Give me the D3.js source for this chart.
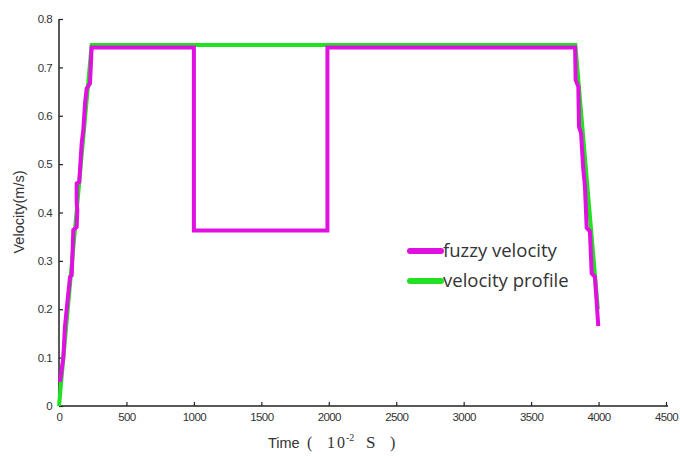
<!DOCTYPE html>
<html><head><meta charset="utf-8">
<script src="https://cdn.jsdelivr.net/npm/d3@7"></script>
<style>body{margin:0;background:#fff}svg{display:block}</style>
</head><body>
<svg id="c" width="680" height="456"></svg>
<script>
// ---- data ----
const xTicks = [0,500,1000,1500,2000,2500,3000,3500,4000,4500];
const yTicks = [0,0.1,0.2,0.3,0.4,0.5,0.6,0.7,0.8];
const yTickLabels = ["0","0.1","0.2","0.3","0.4","0.5","0.6","0.7","0.8"];
const profileT = [0, 242, 3828, 3995];
const profileV = [0, 0.746, 0.746, 0.2];
const fuzzyT = [8, 32, 44, 57, 69, 82, 94, 102, 106, 131, 136, 131, 131, 150, 168, 180, 193, 205, 230, 242,
                1000, 1000, 1990, 1990, 3826, 3830, 3850, 3855, 3870, 3887, 3899, 3912, 3936, 3949, 3973, 3998];
const fuzzyV = [0.05, 0.10, 0.164, 0.20, 0.233, 0.267, 0.27, 0.33, 0.364, 0.37, 0.405, 0.42, 0.46, 0.463, 0.543, 0.57, 0.626, 0.656, 0.667, 0.741,
                0.741, 0.363, 0.363, 0.741, 0.741, 0.674, 0.66, 0.577, 0.564, 0.488, 0.454, 0.368, 0.361, 0.274, 0.267, 0.165];
const legendLabels = ["fuzzy velocity", "velocity profile"];
const seriesColors = ["#e010e0", "#22e022"];

// ---- chart ----
const svg = d3.select("#c");
const x = d3.scaleLinear().domain([0,4500]).range([59,666]);
const y = d3.scaleLinear().domain([0,0.8]).range([406,19]);
const axisColor = "#222";

const gx = svg.append("g").attr("transform","translate(0,406)")
  .call(d3.axisBottom(x).tickValues(xTicks).tickSizeInner(-4).tickSizeOuter(0).tickPadding(7).tickFormat(d3.format("d")));
const gy = svg.append("g").attr("transform","translate(59,0)")
  .call(d3.axisLeft(y).tickValues(yTicks).tickSizeInner(-4).tickSizeOuter(0).tickPadding(7).tickFormat((d,i)=>yTickLabels[i]));
[gx,gy].forEach(g=>{
  g.select(".domain").attr("stroke",axisColor).attr("stroke-width",1.5);
  g.selectAll(".tick line").attr("stroke",axisColor).attr("stroke-width",1.2);
  g.selectAll(".tick text").attr("fill","#333").attr("font-family","Liberation Sans, Arial, sans-serif")
    .attr("font-size",11.5).attr("letter-spacing","-0.6px");
});
gx.select(".domain").attr("d","M59,0H668");
gy.select(".domain").attr("d","M0,406V19");

const line = d3.line().x(d=>x(d[0])).y(d=>y(d[1]));
const prof = profileT.map((t,i)=>[t,profileV[i]]);
const fuzz = fuzzyT.map((t,i)=>[t,fuzzyV[i]]);
svg.append("path").datum(prof).attr("d",line).attr("fill","none")
  .attr("stroke",seriesColors[1]).attr("stroke-width",4);
svg.append("path").datum(fuzz).attr("d",line).attr("fill","none")
  .attr("stroke",seriesColors[0]).attr("stroke-width",4).attr("stroke-linejoin","miter");

// legend
legendLabels.forEach((lab,i)=>{
  const yy = 251 + i*30;
  svg.append("line").attr("x1",410).attr("x2",441).attr("y1",yy).attr("y2",yy)
    .attr("stroke",seriesColors[i]).attr("stroke-width",6).attr("stroke-linecap","round");
  svg.append("text").attr("x",443).attr("y",yy+6).text(lab)
    .attr("font-family","'Open Sans', Lato, sans-serif").attr("font-size",18.5).attr("fill","#333");
});

// axis titles
svg.append("text").attr("transform","translate(24,212) rotate(-90)").attr("text-anchor","middle")
  .attr("font-family","Liberation Sans, Arial, sans-serif").attr("font-size",14.5).attr("fill","#333")
  .text("Velocity(m/s)");
const serif = "Liberation Serif, Times New Roman, serif";
const ty = 448;
svg.append("text").attr("x",268).attr("y",ty).attr("font-size",14.5).attr("fill","#333")
  .attr("font-family","Liberation Sans, Arial, sans-serif").text("Time");
const parts = [["(",307,16],["1",327,16],["0",337,16],["S",366,17],[")",390,16]];
parts.forEach(p=>svg.append("text").attr("x",p[1]).attr("y",ty).attr("font-size",p[2]).attr("fill","#333")
  .attr("font-family",serif).text(p[0]));
svg.append("text").attr("x",346).attr("y",ty-7).attr("font-size",10).attr("fill","#333")
  .attr("font-family",serif).text("-2");
</script>
</body></html>
